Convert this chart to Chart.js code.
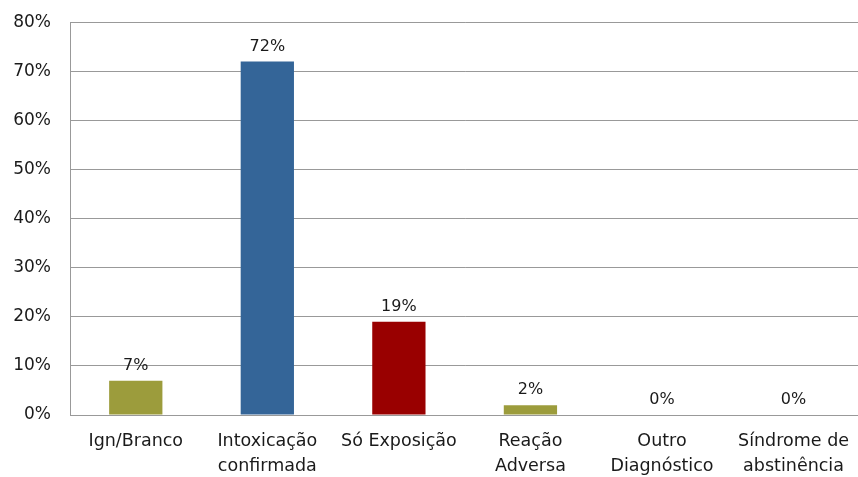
<!DOCTYPE html>
<html>
<head>
<meta charset="utf-8">
<script src="https://cdn.jsdelivr.net/npm/chart.js@4"></script>
<style>
  html, body { margin: 0; padding: 0; background: #fff; overflow: hidden; }
  #wrap { width: 858px; height: 477px; overflow: hidden; }
  #chart { display: block; margin-top: -7px; }
</style>
</head>
<body>
<div id="wrap"><canvas id="chart" width="863" height="490"></canvas></div>
<script>
const categories = [
  'Ign/Branco',
  ['Intoxicação', 'confirmada'],
  'Só Exposição',
  ['Reação', 'Adversa'],
  ['Outro', 'Diagnóstico'],
  ['Síndrome de', 'abstinência']
];
const percentages = [7, 72, 19, 2, 0, 0];
const barColors = ['#9c9c3c', '#346598', '#990000', '#9c9c3c', '#9c9c3c', '#9c9c3c'];
const yTicks = [0, 10, 20, 30, 40, 50, 60, 70, 80];

const FONT = '"DejaVu Sans", sans-serif';

// writes the percentage above each bar
const valueLabels = {
  id: 'valueLabels',
  afterDatasetsDraw(chart) {
    const ctx = chart.ctx;
    const meta = chart.getDatasetMeta(0);
    ctx.save();
    ctx.font = '16px ' + FONT;
    ctx.fillStyle = '#1a1a1a';
    ctx.textAlign = 'center';
    ctx.textBaseline = 'bottom';
    meta.data.forEach((bar, i) => {
      ctx.fillText(percentages[i] + '%', bar.x, bar.y - 7);
    });
    ctx.restore();
  }
};

new Chart(document.getElementById('chart').getContext('2d'), {
  type: 'bar',
  data: {
    labels: categories,
    datasets: [{
      data: percentages,
      backgroundColor: barColors,
      borderWidth: 0,
      categoryPercentage: 1,
      barPercentage: 0.405
    }]
  },
  options: {
    responsive: false,
    animation: false,
    layout: { padding: 0 },
    plugins: { legend: { display: false }, tooltip: { enabled: false } },
    scales: {
      x: {
        afterFit(axis) { axis.height = 68; },
        grid: { display: false, drawTicks: false },
        border: { color: '#999', width: 1 },
        ticks: {
          color: '#1a1a1a',
          font: { family: FONT, size: 17.5, lineHeight: 1.43 },
          padding: 14,
          maxRotation: 0,
          autoSkip: false
        }
      },
      y: {
        min: 0,
        max: 80,
        afterBuildTicks(axis) { axis.ticks = yTicks.map(v => ({ value: v })); },
        afterFit(axis) { axis.width = 70; },
        grid: { color: '#999', drawTicks: false },
        border: { color: '#999', width: 1 },
        ticks: {
          color: '#1a1a1a',
          font: { family: FONT, size: 17 },
          padding: 19,
          callback: v => v + '%'
        }
      }
    }
  },
  plugins: [valueLabels]
});
</script>
</body>
</html>
